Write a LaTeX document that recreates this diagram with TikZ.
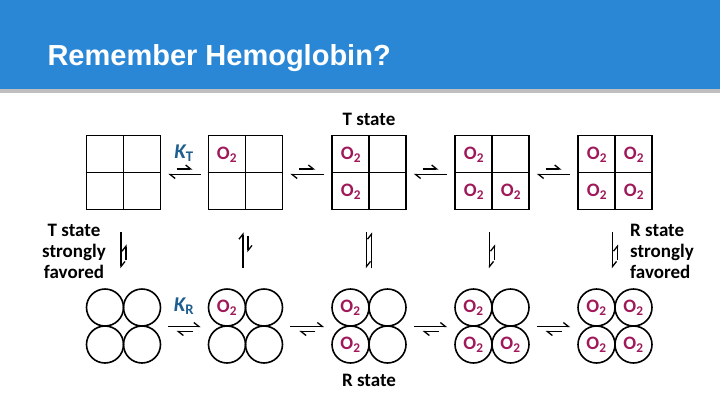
\documentclass[tikz,border=0pt]{standalone}
\usepackage{fontspec}
\setmainfont{Carlito}
\newfontfamily\titlefont{Liberation Sans}
\usetikzlibrary{arrows.meta,calc}
\definecolor{barblue}{HTML}{2A87D6}
\definecolor{otwo}{HTML}{A0185A}
\definecolor{kblue}{HTML}{1F5F8F}
\tikzset{
  sq/.style={draw,line width=1.6pt,minimum size=74pt,inner sep=0pt},
  ci/.style={draw,line width=1.6pt,circle,minimum size=37pt,inner sep=0pt},
  ox/.style={text=otwo,font=\bfseries\fontsize{19}{19}\selectfont},
  lbl/.style={font=\bfseries\fontsize{19}{21}\selectfont},
  harp/.style={line width=1.3pt,-{Straight Barb[left,length=5pt,width=8pt]}},
}
\newcommand{\Otwo}{O\textsubscript{2}}
\begin{document}
\begin{tikzpicture}[x=1pt,y=-1pt]
\useasboundingbox (0,0) rectangle (720,405);
\fill[white] (0,0) rectangle (720,405);
\fill[black!25] (0,88) rectangle (720,93);
\fill[barblue] (0,0) rectangle (720,89);
\node[anchor=west,text=white,font=\titlefont\bfseries\fontsize{29}{29}\selectfont] (title) at (44,58) {Remember Hemoglobin?};
% grids
\foreach \i/\x in {1/123.5,2/245.5,3/369,4/492,5/615}{
  \node[sq] (g\i) at (\x,172.5) {};
  \draw[line width=1.6pt] (g\i.north) -- (g\i.south) (g\i.west) -- (g\i.east);
  \foreach \a/\dx/\dy in {a/-18.5/-18.5,b/18.5/-18.5,c/-18.5/18.5,d/18.5/18.5}{
    \node[ci] (c\i\a) at (\x+\dx,326+\dy) {};
  }
}
% O2 top
\node[ox] (t2a) at (227,155) {\Otwo};
\node[ox] (t3a) at (351,155) {\Otwo};
\node[ox] (t3c) at (351,192) {\Otwo};
\node[ox] (t4a) at (474,155) {\Otwo};
\node[ox] (t4c) at (474,192) {\Otwo};
\node[ox] (t4d) at (511,192) {\Otwo};
\foreach \n/\x/\y in {t5a/597/155,t5b/634/155,t5c/597/192,t5d/634/192}{\node[ox] (\n) at (\x,\y) {\Otwo};}
% O2 bottom
\node[ox] (b2a) at (c2a) {\Otwo};
\foreach \a in {a,c}{\node[ox] (b3\a) at (c3\a) {\Otwo};}
\foreach \a in {a,c,d}{\node[ox] (b4\a) at (c4\a) {\Otwo};}
\foreach \a in {a,b,c,d}{\node[ox] (b5\a) at (c5\a) {\Otwo};}
% labels
\node[lbl] (ts) at (369,119) {T state};
\node[lbl] (rs) at (369,380) {R state};
\node[lbl,align=center] (left) at (74,251) {T state\\strongly\\favored};
\node[lbl,align=left] (right) at (662,251) {R state\\strongly\\favored};
\node[text=kblue,font=\bfseries\itshape\fontsize{21}{21}\selectfont] (kt) at (184,153) {K\textsubscript{\upshape T}};
\node[text=kblue,font=\bfseries\itshape\fontsize{21}{21}\selectfont] (kr) at (184,306) {K\textsubscript{\upshape R}};
% horizontal arrows
\foreach \i/\j in {1/2,2/3,3/4,4/5}{
  \coordinate (mt) at ($(g\i.east)!0.5!(g\j.west)$);
  \draw[harp] ($(g\j.west)+(-7,2)$) -- ($(g\i.east)+(7,2)$);
  \draw[harp] ($(mt)+(-8,-3.5)$) -- ($(mt)+(8,-3.5)$);
  \coordinate (mb) at ($(c\i b.east)!0.5!(c\j a.west)$);
  \draw[harp] ($(c\i b.east)+(7,19)$) -- ($(c\j a.west)+(-7,19)$);
  \draw[harp] ($(mb)+(8,24)$) -- ($(mb)+(-8,24)$);
}
% vertical arrows (offsets from grid bottom at y=209.5)
\foreach \i/\la/\lb/\sa/\sb in {1/22/58/50/34,2/58/22/26/42,3/22/58/58/22,4/22/58/50/34,5/22/58/50/34}{
  \draw[harp] ($(g\i.south)+(-2.5,\la)$) -- ($(g\i.south)+(-2.5,\lb)$);
  \draw[harp] ($(g\i.south)+(2.5,\sa)$) -- ($(g\i.south)+(2.5,\sb)$);
}
\end{tikzpicture}
\end{document}
